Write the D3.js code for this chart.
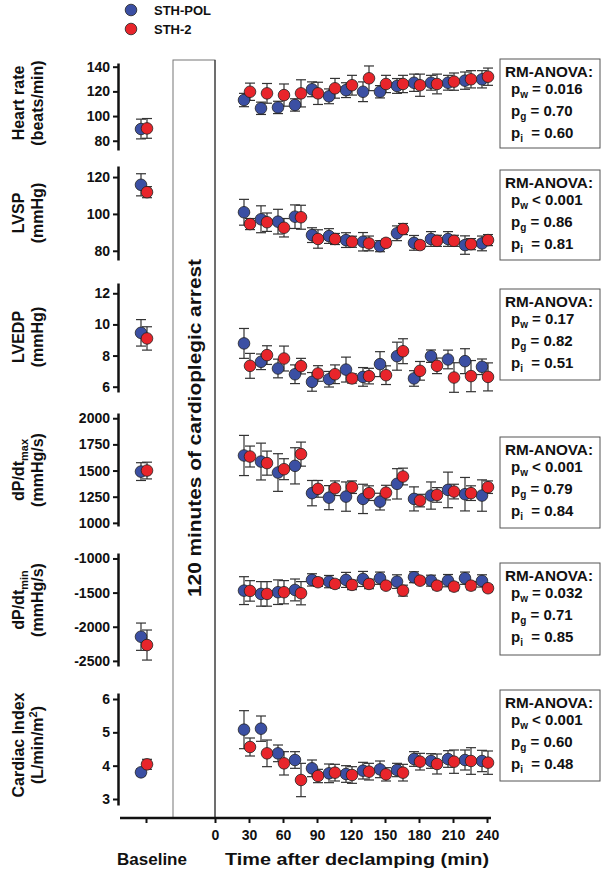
<!DOCTYPE html>
<html><head><meta charset="utf-8">
<script src="https://cdn.jsdelivr.net/npm/d3@7"></script>
<style>
html,body{margin:0;padding:0;background:#fff;}
svg text{font-family:"Liberation Sans",Arial,Helvetica,sans-serif;font-weight:bold;fill:#111;}
</style></head><body>
<svg id="c" width="604" height="878"></svg>
<script>
// ---------- DATA ----------
const times = [30,45,60,75,90,105,120,135,150,165,180,195,210,225,240];
const xTickLabels = [0,30,60,90,120,150,180,210,240];
const groups = ["STH-POL","STH-2"];

// Heart rate (beats/min)
const hrBase = [89.5, 90]; const hrBaseErr = [8, 8];
const hrPol = [113,106.3,107,109,121.7,116,121,119.7,119.7,124.4,127,127,127,128.7,129.8];
const hrPolErr = [5.4,5,5,5,6,6,6,8,5,6,7,6,6,7,7];
const hr2 = [119.7,118.4,117,118.4,118.4,122.5,125,130.6,126,126,125,126,127.9,129.8,131.9];
const hr2Err = [7,8,9,11,9,8,8,10,7,7,9,8,7,7,7];
const hrTicks = [80,100,120,140];

// LVSP (mmHg)
const lvspBase = [115.8, 111.8]; const lvspBaseErr = [6, 3];
const lvspPol = [100.9,97.1,95.8,98.5,88.5,88,85.8,84.9,82.5,89.5,84.3,86.4,86.4,83.1,84];
const lvspPolErr = [7,7.3,6.7,6.4,4,4,4,5,3,4,4,4,4,5,4];
const lvsp2 = [94.5,95.5,92.5,98.2,86.4,86.4,84.9,84,84.3,91.8,83.1,85.4,85.4,83.6,85.8];
const lvsp2Err = [3,5,5,6.5,5,3,3,4,2,3,2,3,3,3,3];
const lvspTicks = [80,100,120];

// LVEDP (mmHg)
const lvedpBase = [9.46, 9.1]; const lvedpBaseErr = [0.85, 0.75];
const lvedpPol = [8.78,7.6,7.17,6.8,6.31,6.48,7.1,6.63,7.45,7.96,6.53,7.96,7.75,7.64,7.28];
const lvedpPolErr = [0.96,0.5,0.6,0.6,0.6,0.5,0.8,0.6,0.8,0.9,0.5,0.4,0.6,0.8,0.5];
const lvedp2 = [7.34,8.03,7.81,7.32,6.85,6.8,6.53,6.68,6.74,8.28,7.02,7.34,6.59,6.68,6.63];
const lvedp2Err = [0.8,0.6,0.8,0.5,0.5,0.6,0.3,0.5,0.6,0.8,0.6,0.5,0.95,1.0,0.9];
const lvedpTicks = [6,8,10,12];

// dP/dt max (mmHg/s)
const dpmaxBase = [1490, 1500]; const dpmaxBaseErr = [85, 80];
const dpmaxPol = [1644,1586,1481,1545,1284,1241,1251,1229,1203,1373,1229,1261,1315,1274,1261];
const dpmaxPolErr = [192,176,180,173,121,115,140,140,80,145,115,130,170,160,150];
const dpmax2 = [1634,1571,1513,1657,1325,1331,1341,1284,1289,1443,1213,1267,1299,1284,1341];
const dpmax2Err = [100,115,100,115,80,70,60,70,70,80,60,70,70,70,60];
const dpmaxTicks = [1000,1250,1500,1750,2000];

// dP/dt min (mmHg/s)
const dpminBase = [-2146, -2268]; const dpminBaseErr = [200, 220];
const dpminPol = [-1471,-1519,-1494,-1461,-1314,-1339,-1314,-1300,-1289,-1339,-1275,-1325,-1325,-1289,-1329];
const dpminPolErr = [204,180,180,160,90,90,110,110,90,100,80,80,90,90,90];
const dpmin2 = [-1475,-1519,-1494,-1509,-1348,-1373,-1387,-1373,-1398,-1471,-1325,-1398,-1412,-1398,-1436];
const dpmin2Err = [150,180,170,170,60,60,70,70,50,80,50,60,60,60,50];
const dpminTicks = [-2500,-2000,-1500,-1000];

// Cardiac index (L/min/m2)
const ciBase = [3.8, 4.04]; const ciBaseErr = [0.1, 0.15];
const ciPol = [5.08,5.11,4.37,4.17,3.92,3.77,3.75,3.85,3.89,3.87,4.2,4.14,4.2,4.17,4.14];
const ciPolErr = [0.57,0.38,0.25,0.25,0.25,0.28,0.25,0.25,0.25,0.2,0.22,0.22,0.25,0.3,0.32];
const ci2 = [4.56,4.37,4.07,3.57,3.69,3.79,3.72,3.82,3.74,3.79,4.12,4.05,4.12,4.14,4.09];
const ci2Err = [0.27,0.4,0.35,0.5,0.2,0.25,0.25,0.25,0.2,0.25,0.25,0.3,0.35,0.4,0.35];
const ciTicks = [3,4,5,6];

// RM-ANOVA p values
const pW = ["= 0.016","< 0.001","= 0.17","< 0.001","= 0.032","< 0.001"];
const pG = ["= 0.70","= 0.86","= 0.82","= 0.79","= 0.71","= 0.60"];
const pI = ["= 0.60","= 0.81","= 0.51","= 0.84","= 0.85","= 0.48"];

// ---------- LAYOUT ----------
const colors = {pol:"#3b4fa3", sth2:"#e8252b"};
const svg = d3.select("#c");
const axisX = 118;
const xT = d3.scaleLinear().domain([0,240]).range([215,487]);
const xB = d3.scalePoint().domain(["Baseline"]).range([146,146]);
const offPol = -5, off2 = 1;
const fmt = d => String(d);

const panels = [
  {t1:"Heart rate", t2:"(beats/min)", dom:[72.5,143], rng:[150,63], ticks:hrTicks, base:hrBase, baseErr:hrBaseErr,
   pol:hrPol, polErr:hrPolErr, s2:hr2, s2Err:hr2Err, box:[59,89], ty:103},
  {t1:"LVSP", t2:"(mmHg)", dom:[75,126], rng:[260,166], ticks:lvspTicks, base:lvspBase, baseErr:lvspBaseErr,
   pol:lvspPol, polErr:lvspPolErr, s2:lvsp2, s2Err:lvsp2Err, box:[170,90], ty:213},
  {t1:"LVEDP", t2:"(mmHg)", dom:[5.66,12.66], rng:[392,283], ticks:lvedpTicks, base:lvedpBase, baseErr:lvedpBaseErr,
   pol:lvedpPol, polErr:lvedpPolErr, s2:lvedp2, s2Err:lvedp2Err, box:[289,91], ty:337},
  {t1:"dP/dt", sub:"max", t2:"(mmHg/s)", dom:[970,2050], rng:[526,413], ticks:dpmaxTicks, base:dpmaxBase, baseErr:dpmaxBaseErr,
   pol:dpmaxPol, polErr:dpmaxPolErr, s2:dpmax2, s2Err:dpmax2Err, box:[437,91], ty:470},
  {t1:"dP/dt", sub:"min", t2:"(mmHg/s)", dom:[-2575,-920], rng:[666,553], ticks:dpminTicks, base:dpminBase, baseErr:dpminBaseErr,
   pol:dpminPol, polErr:dpminPolErr, s2:dpmin2, s2Err:dpmin2Err, box:[563,92], ty:600},
  {t1:"Cardiac Index", t2:"(L/min/m", sup:"2", dom:[2.82,6.18], rng:[805,693], ticks:ciTicks, base:ciBase, baseErr:ciBaseErr,
   pol:ciPol, polErr:ciPolErr, s2:ci2, s2Err:ci2Err, box:[690,91], ty:745}
];

// cardioplegic arrest box
svg.append("rect").attr("x",173).attr("y",60).attr("width",xT(0)-173).attr("height",818-60)
  .attr("fill","none").attr("stroke","#777").attr("stroke-width",1);
svg.append("line").attr("x1",xT(0)).attr("x2",xT(0)).attr("y1",60).attr("y2",818).attr("stroke","#222").attr("stroke-width",1);
svg.append("text").attr("transform","translate(201,428) rotate(-90)").attr("text-anchor","middle")
  .attr("font-size",18).attr("textLength",338).attr("lengthAdjust","spacingAndGlyphs")
  .text("120 minutes of cardioplegic arrest");

panels.forEach((p,i)=>{
  const y = d3.scaleLinear().domain(p.dom).range(p.rng);
  const g = svg.append("g");
  const ax = g.append("g").attr("transform",`translate(${axisX},0)`)
    .call(d3.axisLeft(y).tickValues(p.ticks).tickFormat(fmt).tickSize(5).tickSizeOuter(0).tickPadding(3));
  ax.select(".domain").attr("stroke","#111").attr("stroke-width",2.5);
  ax.selectAll(".tick line").attr("stroke","#111").attr("stroke-width",2);
  ax.selectAll(".tick text").attr("font-size",14).attr("fill","#111")
    .style("font-family","'Liberation Sans',Arial,sans-serif").style("font-weight","bold");

  const t1 = g.append("text").attr("transform",`translate(24,${p.ty}) rotate(-90)`).attr("text-anchor","middle").attr("font-size",16);
  t1.append("tspan").text(p.t1);
  if(p.sub) t1.append("tspan").attr("font-size",11).attr("dy",4).text(p.sub);
  const t2 = g.append("text").attr("transform",`translate(43,${p.ty}) rotate(-90)`).attr("text-anchor","middle").attr("font-size",16);
  t2.append("tspan").text(p.t2);
  if(p.sup){ t2.append("tspan").attr("font-size",11).attr("dy",-6).text(p.sup); t2.append("tspan").attr("dy",6).text(")"); }

  const series = [
    {vals:p.pol, errs:p.polErr, bv:p.base[0], be:p.baseErr[0], off:offPol, col:colors.pol},
    {vals:p.s2, errs:p.s2Err, bv:p.base[1], be:p.baseErr[1], off:off2, col:colors.sth2}
  ];
  series.forEach(s=>{
    const pts = times.map((t,k)=>({x:xT(t)+s.off, v:s.vals[k], e:s.errs[k]}));
    pts.unshift({x:xB("Baseline")+s.off, v:s.bv, e:s.be});
    const eg = g.append("g").attr("stroke","#333").attr("stroke-width",1.2);
    pts.forEach(d=>{
      eg.append("line").attr("x1",d.x).attr("x2",d.x).attr("y1",y(d.v-d.e)).attr("y2",y(d.v+d.e));
      eg.append("line").attr("x1",d.x-5).attr("x2",d.x+5).attr("y1",y(d.v-d.e)).attr("y2",y(d.v-d.e));
      eg.append("line").attr("x1",d.x-5).attr("x2",d.x+5).attr("y1",y(d.v+d.e)).attr("y2",y(d.v+d.e));
    });
    s.pts = pts;
  });
  series.forEach(s=>{
    g.append("g").selectAll("circle").data(s.pts).join("circle")
      .attr("cx",d=>d.x).attr("cy",d=>y(d.v)).attr("r",5.8)
      .attr("fill",s.col).attr("stroke","#222").attr("stroke-width",0.8);
  });

  const bx = 500, by = p.box[0], bh = p.box[1];
  g.append("rect").attr("x",bx).attr("y",by).attr("width",100).attr("height",bh)
    .attr("fill","#fff").attr("stroke","#555").attr("stroke-width",1);
  g.append("text").attr("x",bx+5).attr("y",by+18).attr("font-size",15)
    .attr("textLength",88).attr("lengthAdjust","spacingAndGlyphs").text("RM-ANOVA:");
  const lines = [["w",pW[i]],["g",pG[i]],["i"," "+pI[i]]];
  lines.forEach((l,k)=>{
    const t = g.append("text").attr("x",bx+11).attr("y",by+35+k*22).attr("font-size",15).attr("xml:space","preserve");
    t.append("tspan").text("p");
    t.append("tspan").attr("font-size",10).attr("dy",4).text(l[0]);
    t.append("tspan").attr("dy",-4).text(" "+l[1]);
  });
});

// x axis
svg.append("line").attr("x1",120).attr("x2",491).attr("y1",818).attr("y2",818).attr("stroke","#111").attr("stroke-width",2.5);
const xa = svg.append("g").attr("transform","translate(0,818)")
  .call(d3.axisBottom(xT).tickValues(xTickLabels).tickFormat(fmt).tickSize(5).tickSizeOuter(0).tickPadding(7));
xa.select(".domain").remove();
xa.selectAll(".tick line").attr("stroke","#111").attr("stroke-width",2);
xa.selectAll(".tick text").attr("font-size",14).attr("fill","#111")
  .style("font-family","'Liberation Sans',Arial,sans-serif").style("font-weight","bold");
const xb = svg.append("g").attr("transform","translate(0,818)")
  .call(d3.axisBottom(xB).tickSize(5).tickSizeOuter(0).tickFormat(""));
xb.select(".domain").remove();
xb.selectAll(".tick line").attr("stroke","#111").attr("stroke-width",2);
svg.append("text").attr("x",152).attr("y",865).attr("text-anchor","middle").attr("font-size",17).text("Baseline");
svg.append("text").attr("x",357).attr("y",865).attr("text-anchor","middle").attr("font-size",17)
  .attr("textLength",264).attr("lengthAdjust","spacingAndGlyphs").text("Time after declamping (min)");

// legend
const lg = svg.append("g");
groups.forEach((gname,k)=>{
  lg.append("circle").attr("cx",131).attr("cy",10+k*19).attr("r",5.8)
    .attr("fill",k===0?colors.pol:colors.sth2).attr("stroke","#222").attr("stroke-width",0.8);
  lg.append("text").attr("x",154).attr("y",15+k*19).attr("font-size",13).text(gname);
});
</script></body></html>
